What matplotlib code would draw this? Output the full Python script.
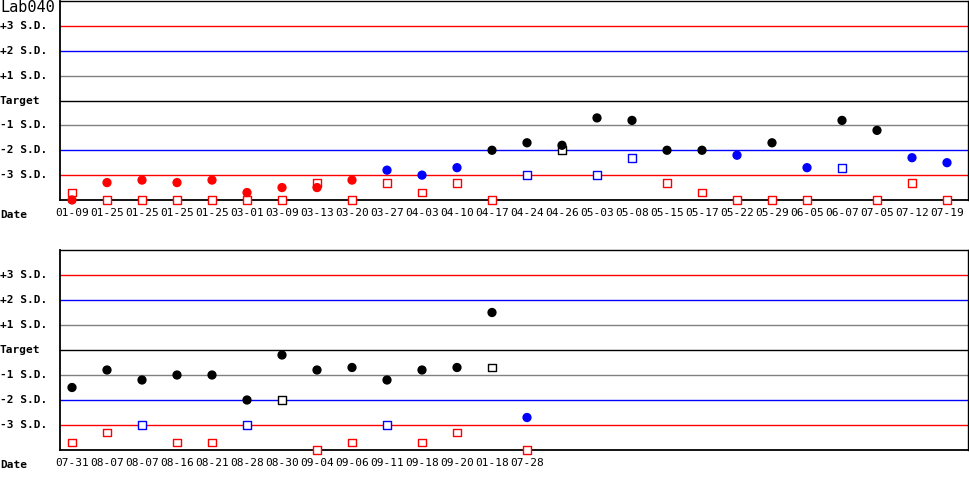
import numpy as np
import matplotlib
matplotlib.use('Agg')
import matplotlib.pyplot as plt
from matplotlib.transforms import blended_transform_factory

# top panel
dates1 = ['01-09', '01-25', '01-25', '01-25', '01-25', '03-01', '03-09', '03-13', '03-20',
          '03-27', '04-03', '04-10', '04-17', '04-24', '04-26', '05-03', '05-08', '05-15',
          '05-17', '05-22', '05-29', '06-05', '06-07', '07-05', '07-12', '07-19']
dots1 = [-4.0, -3.3, -3.2, -3.3, -3.2, -3.7, -3.5, -3.5, -3.2, -2.8, -3.0, -2.7, -2.0,
         -1.7, -1.8, -0.7, -0.8, -2.0, -2.0, -2.2, -1.7, -2.7, -0.8, -1.2, -2.3, -2.5]
squares1 = [-3.7, -4.0, -4.0, -4.0, -4.0, -4.0, -4.0, -3.3, -4.0, -3.3, -3.7, -3.3, -4.0,
            -3.0, -2.0, -3.0, -2.3, -3.3, -3.7, -4.0, -4.0, -4.0, -2.7, -4.0, -3.3, -4.0]

# bottom panel
dates2 = ['07-31', '08-07', '08-07', '08-16', '08-21', '08-28', '08-30', '09-04', '09-06',
          '09-11', '09-18', '09-20', '01-18', '07-28']
dots2 = [-1.5, -0.8, -1.2, -1.0, -1.0, -2.0, -0.2, -0.8, -0.7, -1.2, -0.8, -0.7, 1.5, -2.7]
squares2 = [-3.7, -3.3, -3.0, -3.7, -3.7, -3.0, -2.0, -4.0, -3.7, -3.0, -3.7, -3.3, -0.7, -4.0]

levels = [3, 2, 1, 0, -1, -2, -3]
level_names = ['+3 S.D.', '+2 S.D.', '+1 S.D.', 'Target', '-1 S.D.', '-2 S.D.', '-3 S.D.']
level_colors = ['red', 'blue', 'gray', 'black', 'gray', 'blue', 'red']

font = dict(family='DejaVu Sans Mono', fontsize=8, fontweight='bold')


def point_color(v):
    if abs(v) > 3:
        return 'red'
    if abs(v) > 2 or v == 3:
        return 'blue'
    return 'black'


def draw_panel(ax, dates, dots, squares):
    ax.set_xlim(-12 / 35, 896 / 35)
    ax.set_ylim(-4, 4)
    for lv, c in zip(levels, level_colors):
        ax.axhline(lv, color=c, lw=1, zorder=1)
    x = np.arange(len(dates))
    ax.scatter(x, squares, marker='s', s=32, facecolors='white',
               edgecolors=[point_color(v) for v in squares], linewidths=1, zorder=3, clip_on=False)
    ax.scatter(x, dots, marker='o', s=32, c=[point_color(v) for v in dots],
               zorder=4, clip_on=False)
    ax.set_xticks(x)
    ax.set_xticklabels(dates, fontfamily='DejaVu Sans Mono', fontsize=8)
    ax.tick_params(axis='x', length=0, pad=6)
    ax.set_yticks([])
    for s in ax.spines.values():
        s.set_color('black')
        s.set_linewidth(1)
    ax.spines['left'].set_linewidth(1.3)
    ax.spines['bottom'].set_linewidth(1.3)
    tr = blended_transform_factory(ax.figure.transFigure, ax.transData)
    for lv, name in zip(levels, level_names):
        ax.text(0, lv, name, transform=tr, ha='left', va='center', **font)
    ax.text(0, -4.6, 'Date', transform=tr, ha='left', va='center', **font)


fig = plt.figure(figsize=(9.7, 5.0), dpi=100)
ax1 = fig.add_axes([60 / 970, 0.6, 908 / 970, 0.4 - 1 / 500])
ax2 = fig.add_axes([60 / 970, 0.1, 908 / 970, 0.4])
draw_panel(ax1, dates1, dots1, squares1)
draw_panel(ax2, dates2, dots2, squares2)
fig.text(0, 0.984, 'Lab040', ha='left', va='center', family='DejaVu Sans Mono', fontsize=11)

fig.savefig('out.png', dpi=100)
